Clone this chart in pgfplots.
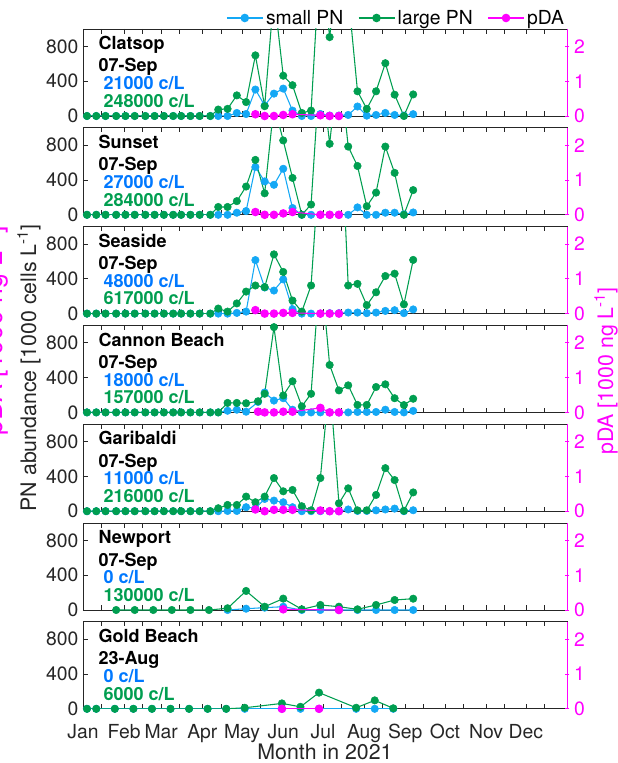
\documentclass[border=0pt]{standalone}
\usepackage{fontspec}
\setmainfont{TeX Gyre Heros}
\usepackage{pgfplots}
\usepackage{pgfplotstable}
\pgfplotsset{compat=1.18}

\definecolor{pnblue}{RGB}{20,168,245}
\definecolor{txtblue}{RGB}{0,120,255}
\definecolor{pngreen}{RGB}{0,158,80}
\definecolor{pdamag}{RGB}{255,0,255}
\definecolor{axgray}{RGB}{38,38,38}

\newcommand{\tfont}{\fontsize{14.5}{16}\selectfont}
\newcommand{\lfont}{\fontsize{16}{18}\selectfont}
\newcommand{\bfont}{\fontsize{13.5}{15}\selectfont\bfseries}

\pgfplotstableread{
d s l
3 0 0
10 0 0
17 0 0
25 0 0
32 0 0
39 0 0
47 0 0
54 0 0
61 0 0
68 0 0
74 0 0
81 0 0
88 0 0
96 0 0
102 0 74
109 0 82
116 35 237
123 23 160
130 304 697
137 121 113
144 257 1400
151 315 463
158 62 354
165 0 35
172 0 62
179 23 1900
186 5 907
193 5 1800
200 12 1400
207 109 284
214 4 82
221 12 284
228 35 607
235 12 245
242 5 0
249 21 248
}\clatsop
\pgfplotstableread{
d p
130 0.05
137 0
144 0
151 0.03
158 0.05
179 0.02
186 0
193 0
}\clatsopda

\pgfplotstableread{
d s l
3 0 0
10 0 0
17 0 0
25 0 0
32 0 0
39 0 0
47 0 0
54 0 0
61 0 0
68 0 0
74 0 0
81 0 0
88 0 0
96 0 0
102 0 90
109 0 90
116 24 157
123 43 325
130 549 631
137 384 247
144 345 1260
151 529 855
158 78 424
165 0 0
172 0 118
179 0 1760
186 0 816
193 0 1800
200 0 784
207 85 561
214 0 98
221 0 255
228 24 784
235 24 482
242 5 0
249 27 284
}\sunset
\pgfplotstableread{
d p
130 0.08
137 0
144 0
151 0.04
158 0.08
179 0
186 0
193 0
}\sunsetda

\pgfplotstableread{
d s l
3 0 0
10 0 0
17 0 0
25 0 0
32 0 0
39 0 0
47 0 0
54 0 0
61 0 0
68 0 0
74 0 0
81 0 0
88 0 0
96 0 0
102 0 58
109 0 23
116 8 117
123 23 253
130 615 323
137 300 304
144 265 681
151 393 479
158 51 150
165 0 23
172 0 323
179 0 1900
186 5 2700
193 5 2700
200 12 323
207 12 342
214 5 97
221 12 245
228 31 432
235 39 459
242 5 106
249 48 617
}\seaside
\pgfplotstableread{
d p
130 0.1
137 0
144 0
151 0.02
158 0.02
179 0
186 0
193 0
}\seasideda

\pgfplotstableread{
d s l
3 0 0
10 0 0
17 0 0
25 0 0
32 0 0
39 0 0
47 0 0
54 0 0
61 0 0
68 0 0
74 0 0
81 0 0
88 0 0
96 0 0
102 0 0
109 19 109
116 31 109
123 8 105
132 120 128
137 229 214
144 136 980
151 163 195
158 31 358
165 0 70
172 0 214
179 0 1700
186 0 545
193 0 253
200 0 311
207 5 86
214 5 86
221 5 292
228 31 323
235 5 163
242 0 84
249 18 157
}\cannon
\pgfplotstableread{
d p
132 0.02
137 0
144 0
151 0.02
158 0.02
179 0.13
186 0
193 0
}\cannonda

\pgfplotstableread{
d s l
3 0 0
10 0 0
17 0 0
25 0 0
32 0 0
39 0 0
47 0 0
54 0 0
61 0 0
68 0 0
74 0 0
81 0 0
88 0 0
96 0 0
102 0 34
109 3 72
116 3 72
123 46 168
130 34 103
137 141 168
144 122 381
151 103 229
158 46 244
165 0 57
172 0 10
179 0 381
186 0 1500
193 0 91
200 20 263
207 3 10
214 3 10
221 10 187
228 20 495
235 30 358
242 0 5
249 11 216
}\garibaldi
\pgfplotstableread{
d p
130 0.05
137 0
144 0.04
151 0.04
158 0.04
179 0.02
186 0
193 0
}\garibaldida

\pgfplotstableread{
d s l
25 nan 0
39 nan 0
53 nan 0
67 nan 0
81 nan 0
95 nan 0
109 0 20
123 15 219
137 27 38
151 38 131
165 0 8
179 0 58
193 0 38
207 0 8
221 0 58
235 0 115
249 0 130
}\newport
\pgfplotstableread{
d p
151 0.02
193 0
}\newportda

\pgfplotstableread{
d s l
3 0 0
10 0 0
24 0 0
38 0 0
52 0 0
66 0 0
80 0 0
94 0 0
108 0 0
122 0 12
150 0 62
164 0 23
178 0 186
206 0 12
220 0 97
234 0 6
}\goldbeach
\pgfplotstableread{
d p
150 0
178 0
}\goldbeachda

\pgfplotsset{
  base/.style={
    width=363pt, height=65.25pt, scale only axis,
    xmin=0, xmax=365,
    tick align=inside,
    major tick length=3.5pt,
    /pgf/number format/assume math mode=true,
    tick label style={font=\tfont},
  },
  leftax/.style={base,
    ymin=0, ymax=1000, ytick={0,400,800}, ytick pos=left,
    xtick={0,14,31,45,59,73,90,104,120,134,151,165,181,195,212,226,243,257,273,287,304,318,334,348},
    xtick pos=both,
    axis line style={axgray, line width=0.6pt},
    tick style={axgray, line width=0.6pt},
    tick label style={axgray},
    xticklabel style={yshift=-8pt},
  },
  rightax/.style={base,
    ymin=0, ymax=2.5, ytick={0,1,2},
    hide x axis, axis y line=right,
    y axis line style={pdamag, -, line width=0.6pt},
    ytick pos=right,
    ytick style={pdamag, line width=0.6pt},
    yticklabel style={pdamag},
  },
  blueline/.style={pnblue, line width=0.8pt, forget plot},
  bluemark/.style={pnblue, only marks, mark=*, mark size=2.8pt, forget plot, restrict y to domain=-100:1040},
  greenline/.style={pngreen, line width=0.8pt, forget plot},
  greenmark/.style={pngreen, only marks, mark=*, mark size=2.8pt, forget plot, restrict y to domain=-100:1040},
}

% #1 index, #2 table, #3 pDA table, #4 name, #5 date, #6 blue text, #7 green text, #8 extra options
\newcommand{\panel}[8]{%
  \begin{axis}[leftax, at={(0pt,-#1*74.1pt)}, #8]
    \addplot[blueline] table[x=d,y=s] {#2};
    \addplot[bluemark] table[x=d,y=s] {#2};
    \addplot[greenline] table[x=d,y=l] {#2};
    \addplot[greenmark] table[x=d,y=l] {#2};
  \end{axis}
  \begin{axis}[rightax, at={(0pt,-#1*74.1pt)}]
    \addplot[pdamag, line width=0.8pt, mark=*, mark size=2.8pt, forget plot] table[x=d,y=p] {#3};
  \end{axis}
  \node[anchor=base west, inner sep=0pt, font=\bfont, text=black] at (11.5pt,{-#1*74.1pt+49.7pt}) {#4};
  \node[anchor=base west, inner sep=0pt, font=\bfont, text=black] at (11.5pt,{-#1*74.1pt+33pt}) {#5};
  \node[anchor=base west, inner sep=0pt, font=\bfont, text=txtblue] at (15.2pt,{-#1*74.1pt+19.7pt}) {#6};
  \node[anchor=base west, inner sep=0pt, font=\bfont, text=pngreen] at (15.2pt,{-#1*74.1pt+6.5pt}) {#7};
}

\begin{document}
\begin{tikzpicture}
\useasboundingbox (-62.25pt,-485.25pt) rectangle (400.5pt,87pt);

\panel{0}{\clatsop}{\clatsopda}{Clatsop}{07-Sep}{21000 c/L}{248000 c/L}{xticklabels={}}
\panel{1}{\sunset}{\sunsetda}{Sunset}{07-Sep}{27000 c/L}{284000 c/L}{xticklabels={}}
\panel{2}{\seaside}{\seasideda}{Seaside}{07-Sep}{48000 c/L}{617000 c/L}{xticklabels={}}
\panel{3}{\cannon}{\cannonda}{Cannon Beach}{07-Sep}{18000 c/L}{157000 c/L}{xticklabels={}}
\panel{4}{\garibaldi}{\garibaldida}{Garibaldi}{07-Sep}{11000 c/L}{216000 c/L}{xticklabels={}}
\panel{5}{\newport}{\newportda}{Newport}{07-Sep}{0 c/L}{130000 c/L}{xticklabels={}}
\panel{6}{\goldbeach}{\goldbeachda}{Gold Beach}{23-Aug}{0 c/L}{6000 c/L}{xticklabels={Jan,,Feb,,Mar,,Apr,,May,,Jun,,Jul,,Aug,,Sep,,Oct,,Nov,,Dec,}}

% legend
\begin{axis}[base, at={(0pt,0pt)}, hide axis, ymin=0, ymax=1,
  legend columns=3,
  legend image code/.code={\draw[mark repeat=2,mark phase=2,#1] plot coordinates {(0pt,0pt) (13.5pt,0pt) (27pt,0pt)};},
  legend style={draw=none, fill=none, at={(1,1)}, anchor=east, yshift=8.25pt, font=\tfont, inner sep=0pt,
    /tikz/every even column/.append style={column sep=9pt}}]
  \addlegendimage{pnblue, line width=0.8pt, mark=*, mark size=2.8pt}
  \addlegendentry{small PN}
  \addlegendimage{pngreen, line width=0.8pt, mark=*, mark size=2.8pt}
  \addlegendentry{large PN}
  \addlegendimage{pdamag, line width=0.8pt, mark=*, mark size=2.8pt}
  \addlegendentry{pDA}
\end{axis}

% axis labels
\node[rotate=90, font=\lfont, text=axgray] at (-40.5pt,-189pt) {PN abundance [1000 cells L\textsuperscript{-1}]};
\node[rotate=90, font=\lfont, text=pdamag] at (392.25pt,-191.25pt) {pDA [1000 ng L\textsuperscript{-1}]};
\node[rotate=90, font=\fontsize{20}{22}\selectfont, text=pdamag, anchor=base] at (-60.5pt,-161.25pt) {pDA [1000 ng L\textsuperscript{-1}]};
\node[anchor=base, font=\lfont, text=axgray] at (181.5pt,-482.5pt) {Month in 2021};
\end{tikzpicture}
\end{document}
